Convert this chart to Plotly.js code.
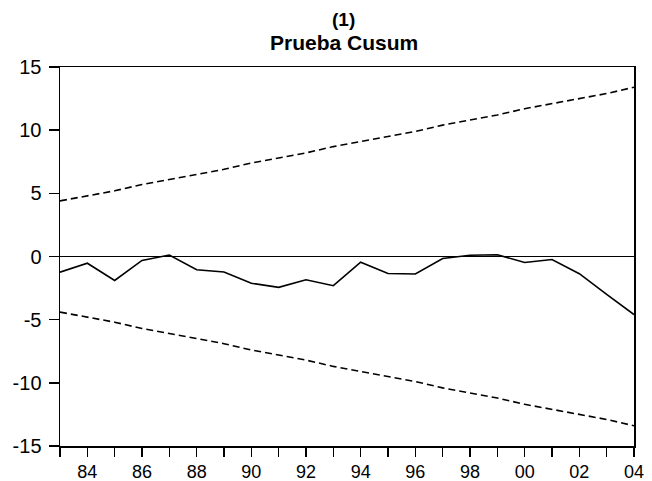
<!DOCTYPE html>
<html>
<head>
<meta charset="utf-8">
<script src="https://cdn.plot.ly/plotly-3.0.1.min.js"></script>
<style>html,body{margin:0;padding:0;background:#fff;}#chart{width:652px;height:481px;}</style>
</head>
<body>
<div id="chart"></div>
<script>
const years = [1983,1984,1985,1986,1987,1988,1989,1990,1991,1992,1993,1994,1995,1996,1997,1998,1999,2000,2001,2002,2003,2004];
const cusum = [-1.24,-0.53,-1.9,-0.31,0.12,-1.05,-1.23,-2.12,-2.44,-1.84,-2.31,-0.45,-1.34,-1.39,-0.16,0.1,0.14,-0.47,-0.24,-1.36,-3.0,-4.6];
const upper = [4.4,4.8,5.2,5.7,6.1,6.5,6.9,7.4,7.8,8.2,8.7,9.1,9.5,9.9,10.4,10.8,11.2,11.7,12.1,12.5,12.9,13.4];
const lower = [-4.4,-4.8,-5.2,-5.7,-6.1,-6.5,-6.9,-7.4,-7.8,-8.2,-8.7,-9.1,-9.5,-9.9,-10.4,-10.8,-11.2,-11.7,-12.1,-12.5,-12.9,-13.4];
const tickYears = years;
const tickLabels = ["","84","","86","","88","","90","","92","","94","","96","","98","","00","","02","","04"];
const yTicks = [-15,-10,-5,0,5,10,15];
const yTickLabels = ["-15","-10","-5","0","5","10","15"];
const titleLines = ["(1)", "Prueba Cusum"];

const data = [
  {x: years, y: cusum, mode: 'lines', line: {color: '#000', width: 1.6}, hoverinfo: 'skip'},
  {x: years, y: upper, mode: 'lines', line: {color: '#000', width: 1.6, dash: '7px,4px'}, hoverinfo: 'skip'},
  {x: years, y: lower, mode: 'lines', line: {color: '#000', width: 1.6, dash: '7px,4px'}, hoverinfo: 'skip'}
];

const fam = 'Liberation Sans, Arial, sans-serif';
const layout = {
  width: 652, height: 481,
  margin: {l: 60, r: 18, t: 67, b: 35},
  paper_bgcolor: '#fff', plot_bgcolor: '#fff',
  showlegend: false,
  font: {family: fam, color: '#000', size: 20},
  annotations: [
    {text: '<b>' + titleLines[0] + '</b>', xref: 'paper', yref: 'paper', x: 0.494, y: 1.125, xanchor: 'center', yanchor: 'middle', showarrow: false, font: {family: fam, size: 19, color: '#000'}},
    {text: '<b>' + titleLines[1] + '</b>', xref: 'paper', yref: 'paper', x: 0.494, y: 1.064, xanchor: 'center', yanchor: 'middle', showarrow: false, font: {family: fam, size: 21, color: '#000'}}
  ],
  xaxis: {range: [1983, 2004], tickmode: 'array', tickvals: tickYears, ticktext: tickLabels,
          ticks: 'outside', ticklen: 9, tickwidth: 1.5, tickcolor: '#000',
          showline: true, linecolor: '#000', linewidth: 1.5, mirror: true,
          showgrid: false, zeroline: false, tickangle: 0,
          tickfont: {size: 18}},
  yaxis: {range: [-15, 15], tickmode: 'array', tickvals: yTicks, ticktext: yTickLabels,
          ticks: 'outside', ticklen: 10, tickwidth: 1.5, tickcolor: '#000',
          showline: true, linecolor: '#000', linewidth: 1.5, mirror: true,
          showgrid: false, zeroline: true, zerolinecolor: '#000', zerolinewidth: 1.5,
          ticklabelstandoff: 3,
          tickfont: {size: 20}}
};

Plotly.newPlot('chart', data, layout, {displayModeBar: false, staticPlot: true});
</script>
</body>
</html>
